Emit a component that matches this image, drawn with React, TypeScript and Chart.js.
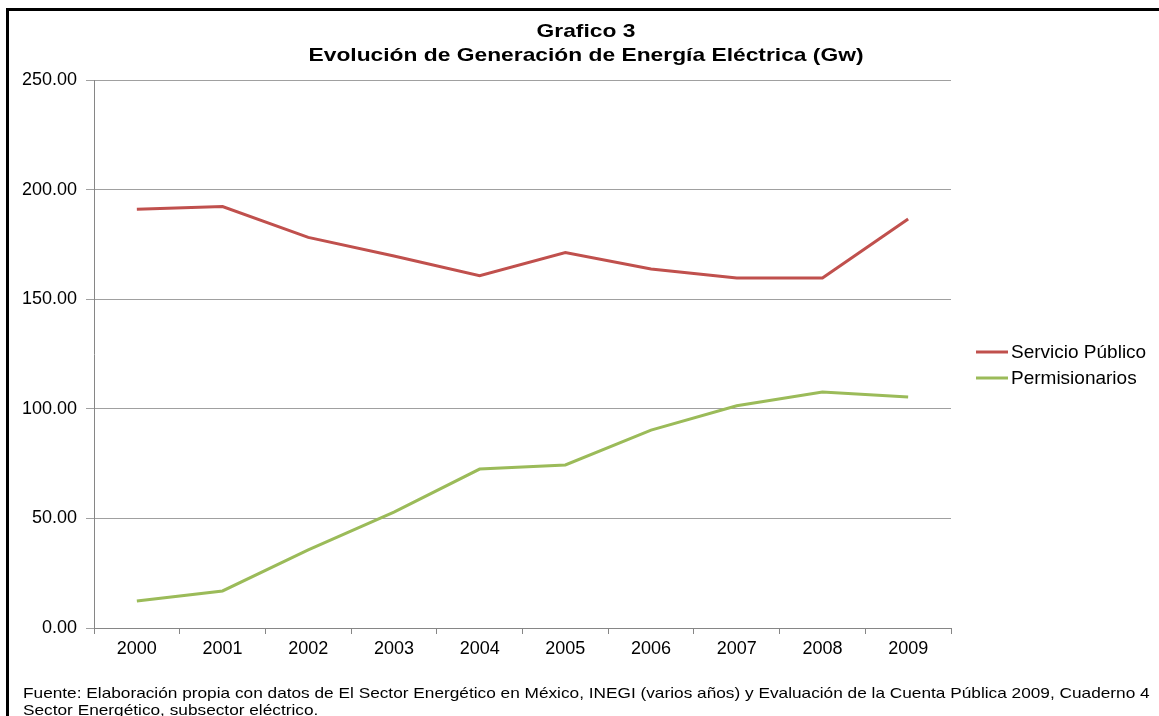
import React, { useEffect, useRef } from "react";
import { Chart, registerables } from "chart.js";

Chart.register(...registerables);

const years = ["2000", "2001", "2002", "2003", "2004", "2005", "2006", "2007", "2008", "2009"];
const servicioPublico = [191.0, 192.3, 178.2, 169.7, 160.7, 171.3, 163.8, 159.7, 159.7, 186.6];
const permisionarios = [12.3, 16.9, 35.6, 52.9, 72.5, 74.4, 90.3, 101.4, 107.7, 105.4];
const seriesLabels = ["Servicio Público", "Permisionarios"];
const seriesColors = ["#C0504D", "#9BBB59"];
const titleLines = ["Grafico 3", "Evolución de Generación de Energía Eléctrica (Gw)"];
const footnoteLines = [
  "Fuente: Elaboración propia con datos de El Sector Energético en México, INEGI (varios años) y Evaluación de la Cuenta Pública 2009, Cuaderno 4",
  "Sector Energético, subsector eléctrico.",
];
const yMin = 0;
const yMax = 250;
const yStep = 50;

const FONT = "'Liberation Sans', Arial, Helvetica, sans-serif";

const legendPlugin = {
  id: "customLegend",
  afterDraw(chart: any) {
    const ctx = chart.ctx;
    const area = chart.chartArea;
    const x0 = area.right + 25;
    const yc = (area.top + area.bottom) / 2 - 2;
    ctx.save();
    chart.data.datasets.forEach((ds: any, i: number) => {
      const y = yc + i * 26;
      ctx.strokeStyle = ds.borderColor;
      ctx.lineWidth = 3;
      ctx.beginPath();
      ctx.moveTo(x0, y);
      ctx.lineTo(x0 + 32, y);
      ctx.stroke();
      ctx.fillStyle = "#000";
      ctx.font = `19px ${FONT}`;
      ctx.textAlign = "left";
      ctx.textBaseline = "middle";
      ctx.fillText(ds.label, x0 + 35, y + 1);
    });
    ctx.restore();
  },
};

export default function App() {
  const ref = useRef<HTMLCanvasElement | null>(null);

  useEffect(() => {
    if (!ref.current) return;
    const chart = new Chart(ref.current, {
      type: "line",
      data: {
        labels: years,
        datasets: [
          {
            label: seriesLabels[0],
            data: servicioPublico,
            borderColor: seriesColors[0],
            backgroundColor: seriesColors[0],
            borderWidth: 3,
            pointRadius: 0,
            tension: 0,
          },
          {
            label: seriesLabels[1],
            data: permisionarios,
            borderColor: seriesColors[1],
            backgroundColor: seriesColors[1],
            borderWidth: 3,
            pointRadius: 0,
            tension: 0,
          },
        ],
      },
      options: {
        responsive: false,
        animation: false,
        layout: { padding: { left: 8, top: 80, right: 208, bottom: 48 } },
        plugins: {
          legend: { display: false },
          title: { display: false },
          tooltip: { enabled: false },
        },
        scales: {
          x: {
            type: "category",
            offset: true,
            grid: {
              offset: true,
              drawOnChartArea: false,
              drawTicks: true,
              tickLength: 6,
              color: "#868686",
            },
            border: { color: "#868686", width: 1 },
            ticks: {
              color: "#000",
              font: { family: FONT, size: 18 },
              padding: 4,
              maxRotation: 0,
              autoSkip: false,
            },
            afterFit: (s: any) => {
              s.height = 40;
            },
          },
          y: {
            min: yMin,
            max: yMax,
            grid: { color: "#a0a0a0", tickLength: 8 },
            border: { color: "#868686", width: 1 },
            ticks: {
              stepSize: yStep,
              color: "#000",
              font: { family: FONT, size: 18 },
              padding: 9,
              callback: (v: any) => Number(v).toFixed(2),
            },
            afterFit: (s: any) => {
              s.width = 86;
            },
          },
        },
      },
      plugins: [legendPlugin],
    });
    return () => chart.destroy();
  }, []);

  return (
    <div style={{ position: "fixed", left: 0, top: 0, width: 1159, height: 716, overflow: "hidden", background: "#fff" }}>
      <div
        style={{
          position: "absolute",
          left: 6,
          top: 8,
          width: 1300,
          height: 900,
          borderLeft: "3px solid #000",
          borderTop: "3px solid #000",
        }}
      />
      <canvas ref={ref} width={1159} height={716} style={{ position: "absolute", left: 0, top: 0 }} />
      <div
        style={{
          position: "absolute",
          left: 0,
          top: 19,
          width: 1172,
          textAlign: "center",
          fontFamily: FONT,
          fontWeight: "bold",
          fontSize: 19,
          lineHeight: "24px",
          color: "#000",
          transform: "scaleX(1.2)",
          transformOrigin: "586px 0",
        }}
      >
        {titleLines.map((t, i) => (
          <div key={i}>{t}</div>
        ))}
      </div>
      <div
        style={{
          position: "absolute",
          left: 23,
          top: 684,
          fontFamily: FONT,
          fontSize: 15,
          lineHeight: "17px",
          color: "#000",
          whiteSpace: "nowrap",
          transform: "scaleX(1.15)",
          transformOrigin: "0 0",
        }}
      >
        {footnoteLines.map((t, i) => (
          <div key={i}>{t}</div>
        ))}
      </div>
    </div>
  );
}
